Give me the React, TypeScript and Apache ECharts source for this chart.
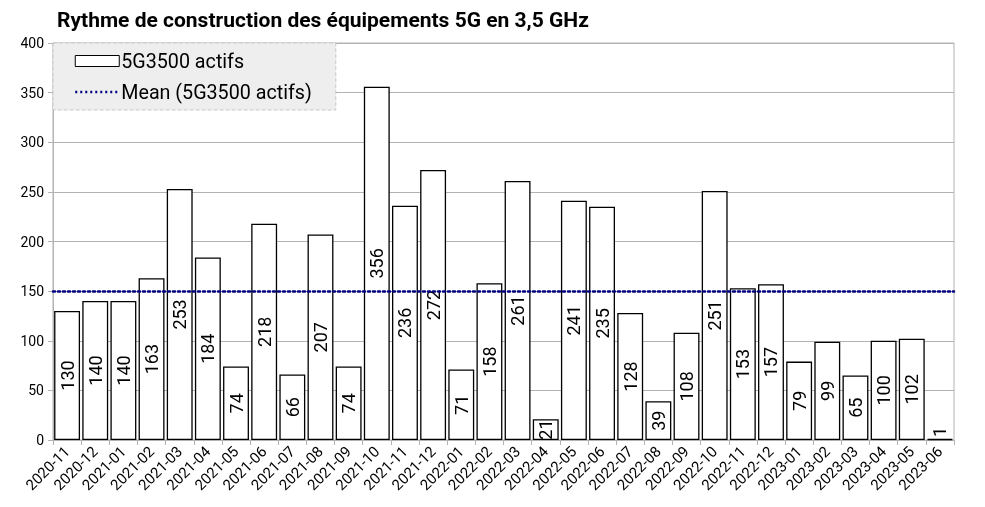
import React, { useEffect, useRef } from "react";
import * as echarts from "echarts";

const TITLE = "Rythme de construction des équipements 5G en 3,5 GHz";
const SERIES_NAME = "5G3500 actifs";
const MEAN_NAME = "Mean (5G3500 actifs)";

const months = [
  "2020-11", "2020-12", "2021-01", "2021-02", "2021-03", "2021-04", "2021-05", "2021-06",
  "2021-07", "2021-08", "2021-09", "2021-10", "2021-11", "2021-12", "2022-01", "2022-02",
  "2022-03", "2022-04", "2022-05", "2022-06", "2022-07", "2022-08", "2022-09", "2022-10",
  "2022-11", "2022-12", "2023-01", "2023-02", "2023-03", "2023-04", "2023-05", "2023-06",
];

const actifs = [
  130, 140, 140, 163, 253, 184, 74, 218,
  66, 207, 74, 356, 236, 272, 71, 158,
  261, 21, 241, 235, 128, 39, 108, 251,
  153, 157, 79, 99, 65, 100, 102, 1,
];

const yTicks = { min: 0, max: 400, interval: 50 };

const FONT = "Roboto, 'Liberation Sans', sans-serif";

export default function App() {
  const ref = useRef<HTMLDivElement>(null);
  useEffect(() => {
    if (!ref.current) return;
    const chart = echarts.init(ref.current, undefined, { renderer: "svg" });
    const barData = actifs.map((v) =>
      v < 10
        ? { value: v, label: { position: ["50%", -7], align: "center", verticalAlign: "middle" } }
        : v
    );
    chart.setOption({
      animation: false,
      textStyle: { fontFamily: FONT },
      title: {
        text: TITLE,
        left: 57,
        top: 9,
        padding: 0,
        textStyle: { fontSize: 21, fontWeight: "bold", color: "#000", fontFamily: FONT },
      },
      legend: {
        orient: "vertical",
        left: 53,
        top: 43,
        padding: [6, 24, 6, 21],
        itemWidth: 44,
        itemHeight: 11,
        itemGap: 7,
        backgroundColor: "#eeeeee",
        borderColor: "#c8c8c8",
        borderWidth: 1,
        borderType: "dashed",
        borderRadius: 0,
        textStyle: { fontSize: 19.7, color: "#000", lineHeight: 24, padding: [0, 0, 0, -3], fontFamily: FONT },
        data: [
          { name: SERIES_NAME, icon: "rect", itemStyle: { color: "#fff", borderColor: "#000", borderWidth: 1 } },
          { name: MEAN_NAME, itemStyle: { opacity: 0 }, lineStyle: { color: "#000080", type: [2, 3], width: 2.5, opacity: 1 } },
        ],
      },
      grid: { left: 53, right: 31, top: 43, bottom: 67, show: true, borderColor: "#b3b3b3", borderWidth: 1 },
      xAxis: {
        type: "category",
        data: months,
        axisLine: { lineStyle: { color: "#b3b3b3", width: 1 } },
        axisTick: { show: true, alignWithLabel: false, length: 5, lineStyle: { color: "#b3b3b3" } },
        axisLabel: { rotate: 45, fontSize: 15, color: "#000", margin: 9, interval: 0 },
      },
      yAxis: {
        type: "value",
        min: yTicks.min,
        max: yTicks.max,
        interval: yTicks.interval,
        axisLine: { show: true, lineStyle: { color: "#b3b3b3" } },
        axisTick: { show: true, length: 5, lineStyle: { color: "#b3b3b3" } },
        axisLabel: { fontSize: 14, color: "#000", margin: 9 },
        splitLine: { lineStyle: { color: "#b3b3b3", width: 1 } },
      },
      series: [
        {
          name: SERIES_NAME,
          type: "bar",
          data: barData,
          clip: false,
          barCategoryGap: "8%",
          itemStyle: { color: "#fff", borderColor: "#000", borderWidth: 1.3 },
          label: {
            show: true,
            position: "inside",
            rotate: 90,
            fontSize: 18,
            color: "#000",
            fontFamily: FONT,
          },
          markLine: {
            silent: true,
            symbol: "none",
            label: { show: false },
            lineStyle: { color: "#000080", type: [2, 3], width: 2.5, cap: "round" },
            data: [{ type: "average" }],
          },
          z: 2,
        },
        {
          name: MEAN_NAME,
          type: "line",
          data: [],
          symbol: "none",
          itemStyle: { color: "#000080" },
          lineStyle: { color: "#000080", type: [2, 3], width: 2.5 },
        },
      ],
    });
    return () => chart.dispose();
  }, []);
  return <div ref={ref} style={{ position: "fixed", left: 0, top: 0, width: 985, height: 507 }} />;
}
